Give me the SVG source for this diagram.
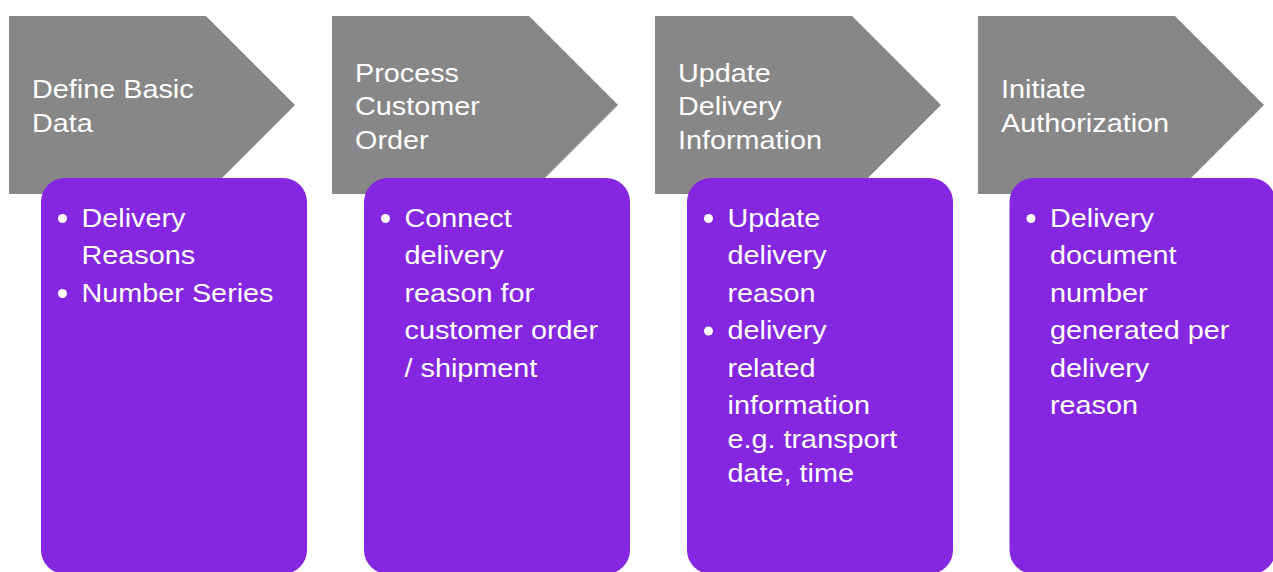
<svg xmlns="http://www.w3.org/2000/svg" width="1273" height="572" viewBox="0 0 1273 572">
<style>
.chev{fill:#878787}
.box{fill:#8526E0}
.h{font-family:"Liberation Sans",Arial,sans-serif;font-size:25.5px;fill:#FFFFFF}
.b{font-family:"Liberation Sans",Arial,sans-serif;font-size:25.5px;fill:#FFFFFF}
.dot{fill:#FFFFFF}
</style>
<rect width="1273" height="572" fill="#FFFFFF"/>
<g id="step1">
<polygon class="chev" points="9,16 206,16 295,105 206,194 9,194"/>
<text class="h" transform="translate(32 0) scale(1.13 1)"><tspan x="0" y="98.5">Define Basic</tspan><tspan x="0" y="132">Data</tspan></text>
<rect class="box" x="41" y="178" width="266" height="396" rx="24" ry="24"/>
<circle class="dot" cx="62.5" cy="218.5" r="4.5"/>
<circle class="dot" cx="62.5" cy="293.5" r="4.5"/>
<text class="b" transform="translate(81.5 0) scale(1.13 1)"><tspan x="0" y="227">Delivery</tspan><tspan x="0" y="264.5">Reasons</tspan><tspan x="0" y="302">Number Series</tspan></text>
</g>
<g id="step2">
<polygon class="chev" points="332,16 529,16 618,105 529,194 332,194"/>
<text class="h" transform="translate(355 0) scale(1.13 1)"><tspan x="0" y="82">Process</tspan><tspan x="0" y="115.5">Customer</tspan><tspan x="0" y="149">Order</tspan></text>
<rect class="box" x="364" y="178" width="266" height="396" rx="24" ry="24"/>
<circle class="dot" cx="385.5" cy="218.5" r="4.5"/>
<text class="b" transform="translate(404.5 0) scale(1.13 1)"><tspan x="0" y="227">Connect</tspan><tspan x="0" y="264.5">delivery</tspan><tspan x="0" y="302">reason for</tspan><tspan x="0" y="339.5">customer order</tspan><tspan x="0" y="377">/ shipment</tspan></text>
</g>
<g id="step3">
<polygon class="chev" points="655,16 852,16 941,105 852,194 655,194"/>
<text class="h" transform="translate(678 0) scale(1.13 1)"><tspan x="0" y="82">Update</tspan><tspan x="0" y="115.5">Delivery</tspan><tspan x="0" y="149">Information</tspan></text>
<rect class="box" x="687" y="178" width="266" height="396" rx="24" ry="24"/>
<circle class="dot" cx="708.5" cy="218.5" r="4.5"/>
<circle class="dot" cx="708.5" cy="331" r="4.5"/>
<text class="b" transform="translate(727.5 0) scale(1.13 1)"><tspan x="0" y="227">Update</tspan><tspan x="0" y="264.5">delivery</tspan><tspan x="0" y="302">reason</tspan><tspan x="0" y="339.5">delivery</tspan><tspan x="0" y="377">related</tspan><tspan x="0" y="414.5">information</tspan><tspan x="0" y="448">e.g. transport</tspan><tspan x="0" y="482">date, time</tspan></text>
</g>
<g id="step4">
<polygon class="chev" points="978,16 1175,16 1264,105 1175,194 978,194"/>
<text class="h" transform="translate(1001 0) scale(1.13 1)"><tspan x="0" y="98.5">Initiate</tspan><tspan x="0" y="132">Authorization</tspan></text>
<rect class="box" x="1009.5" y="178" width="266" height="396" rx="24" ry="24"/>
<circle class="dot" cx="1031" cy="218.5" r="4.5"/>
<text class="b" transform="translate(1050 0) scale(1.13 1)"><tspan x="0" y="227">Delivery</tspan><tspan x="0" y="264.5">document</tspan><tspan x="0" y="302">number</tspan><tspan x="0" y="339.5">generated per</tspan><tspan x="0" y="377">delivery</tspan><tspan x="0" y="414.5">reason</tspan></text>
</g>
<g id="connectors"/>
</svg>
